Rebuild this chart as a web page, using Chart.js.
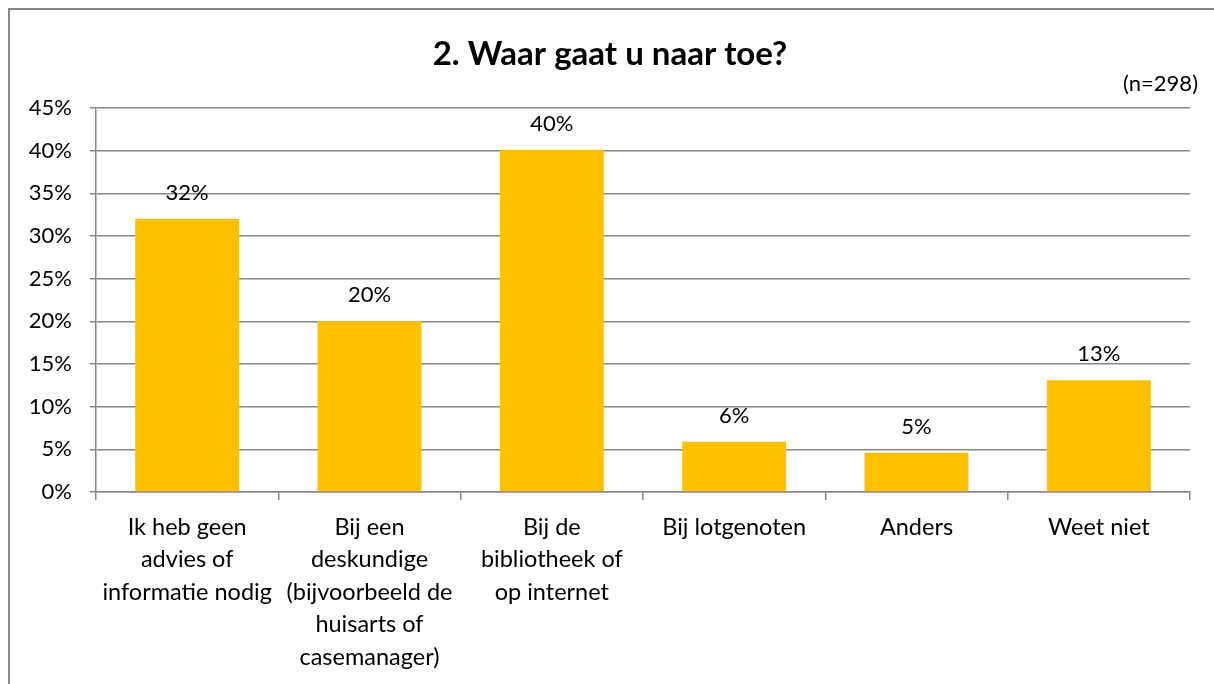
<!DOCTYPE html>
<html>
<head>
<meta charset="utf-8">
<script src="https://cdn.jsdelivr.net/npm/chart.js@4/dist/chart.umd.min.js"></script>
<style>
  html, body { margin: 0; padding: 0; background: #fff; }
  #wrap { width: 1214px; height: 684px; }
</style>
</head>
<body>
<div id="wrap"><canvas id="waarChart"></canvas></div>
<script>
const titleText = '2. Waar gaat u naar toe?';
const noteText = '(n=298)';
const categories = [
    ['Ik heb geen', 'advies of', 'informatie nodig'],
    ['Bij een', 'deskundige', '(bijvoorbeeld de', 'huisarts of', 'casemanager)'],
    ['Bij de', 'bibliotheek of', 'op internet'],
    ['Bij lotgenoten'],
    ['Anders'],
    ['Weet niet']
];
const percentages = [32.0, 20.0, 40.1, 5.9, 4.6, 13.1];
const yTicks = [0, 5, 10, 15, 20, 25, 30, 35, 40, 45];

const fontFamily = 'Lato, "Open Sans", sans-serif';

// frame, title and value labels
const decorations = {
    id: 'decorations',
    beforeDraw(chart) {
        const ctx = chart.ctx;
        ctx.save();
        ctx.strokeStyle = '#878787';
        ctx.lineWidth = 2;
        ctx.strokeRect(9, 9, 1400, 1000);
        ctx.restore();
    },
    afterDatasetsDraw(chart) {
        const ctx = chart.ctx;
        ctx.save();
        ctx.fillStyle = '#000';
        ctx.textAlign = 'center';
        ctx.textBaseline = 'middle';
        ctx.font = 'bold 33px ' + fontFamily;
        ctx.fillText(titleText, 610, 54);
        ctx.font = '22px ' + fontFamily;
        ctx.textAlign = 'right';
        ctx.fillText(noteText, 1198, 84);
        ctx.textAlign = 'center';
        const meta = chart.getDatasetMeta(0);
        meta.data.forEach((bar, i) => {
            ctx.fillText(Math.round(percentages[i]) + '%', bar.x, bar.y - 26);
        });
        ctx.restore();
    }
};

const ctx = document.getElementById('waarChart').getContext('2d');
const waarChart = new Chart(ctx, {
    type: 'bar',
    data: {
        labels: categories,
        datasets: [{
            data: percentages,
            backgroundColor: '#FFC000',
            barPercentage: 0.57,
            categoryPercentage: 1.0
        }]
    },
    plugins: [decorations],
    options: {
        responsive: true,
        maintainAspectRatio: false,
        animation: false,
        layout: { padding: { top: 108, right: 24, left: 0, bottom: 0 } },
        plugins: {
            legend: { display: false },
            tooltip: { enabled: false }
        },
        scales: {
            x: {
                grid: {
                    offset: true,
                    drawOnChartArea: false,
                    color: '#878787',
                    lineWidth: 1.5,
                    tickLength: 8
                },
                border: { color: '#878787', width: 1.5 },
                ticks: {
                    color: '#000',
                    font: { family: fontFamily, size: 23.5, lineHeight: '32.5px' },
                    padding: 11,
                    maxRotation: 0,
                    autoSkip: false
                },
                afterFit(scale) { scale.height = 192; }
            },
            y: {
                min: 0,
                max: 45,
                afterBuildTicks(scale) {
                    scale.ticks = yTicks.map(v => ({ value: v }));
                },
                grid: {
                    color: '#878787',
                    lineWidth: 1.5,
                    tickLength: 6
                },
                border: { color: '#878787', width: 1.5 },
                ticks: {
                    color: '#000',
                    font: { family: fontFamily, size: 22 },
                    padding: 18,
                    callback: v => v + '%'
                },
                afterFit(scale) { scale.width = 96; }
            }
        }
    }
});
</script>
</body>
</html>
